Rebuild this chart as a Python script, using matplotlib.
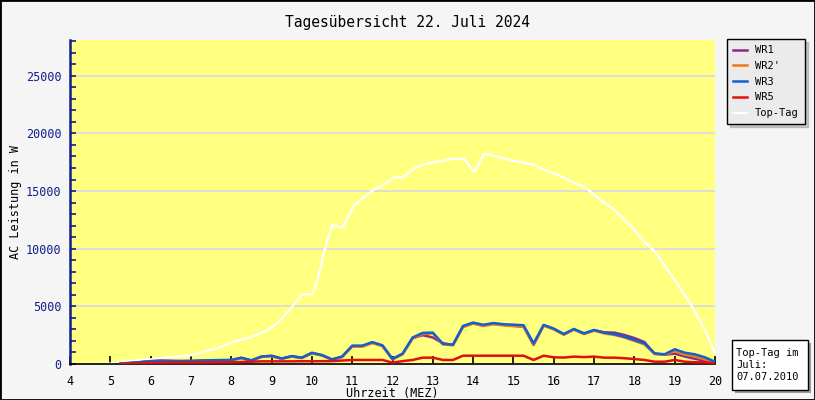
import matplotlib
matplotlib.use("Agg")
import matplotlib.pyplot as plt
from matplotlib.patches import Rectangle

plt.rcParams['font.family'] = ['DejaVu Sans Mono']

# Zeitachse (Viertelstunden) fuer die Wechselrichter
zeit = [5.25, 5.5, 5.75, 6.0, 6.25, 6.5, 6.75, 7.0, 7.25, 7.5, 7.75, 8.0,
        8.25, 8.5, 8.75, 9.0, 9.25, 9.5, 9.75, 10.0, 10.25, 10.5, 10.75, 11.0,
        11.25, 11.5, 11.75, 12.0, 12.25, 12.5, 12.75, 13.0, 13.25, 13.5, 13.75, 14.0,
        14.25, 14.5, 14.75, 15.0, 15.25, 15.5, 15.75, 16.0, 16.25, 16.5, 16.75, 17.0,
        17.25, 17.5, 17.75, 18.0, 18.25, 18.5, 18.75, 19.0, 19.25, 19.5, 19.75, 20.0]

wr3 = [30, 100, 170, 250, 290, 270, 260, 270, 300, 330, 340, 350,
       550, 320, 650, 720, 480, 690, 550, 980, 780, 400, 650, 1590,
       1590, 1900, 1620, 440, 900, 2300, 2700, 2720, 1750, 1680, 3300, 3590,
       3400, 3550, 3450, 3410, 3360, 1790, 3390, 3070, 2600, 3040, 2660, 2950,
       2720, 2580, 2370, 2080, 1790, 930, 840, 1280, 980, 840, 580, 200]

wr1 = [20, 80, 150, 230, 270, 250, 240, 250, 280, 310, 320, 330,
       520, 300, 620, 690, 460, 660, 530, 940, 750, 380, 620, 1550,
       1550, 1850, 1580, 420, 870, 2250, 2500, 2300, 1800, 1650, 3250, 3550,
       3350, 3500, 3400, 3300, 3250, 1650, 3350, 3030, 2560, 3000, 2620, 2920,
       2750, 2720, 2520, 2250, 1900, 880, 800, 900, 650, 450, 300, 100]

wr2 = [25, 90, 160, 240, 280, 260, 250, 260, 290, 320, 330, 340,
       500, 290, 600, 670, 440, 640, 510, 920, 730, 370, 600, 1500,
       1500, 1820, 1550, 400, 850, 2200, 2600, 2650, 1700, 1620, 3200, 3500,
       3300, 3450, 3350, 3300, 3250, 1700, 3330, 3000, 2550, 2980, 2600, 2900,
       2650, 2520, 2300, 2000, 1700, 880, 800, 1100, 800, 650, 400, 150]

wr5 = [10, 30, 60, 100, 120, 130, 130, 130, 130, 140, 140, 150,
       180, 200, 230, 230, 230, 230, 240, 240, 240, 250, 300, 350,
       350, 350, 350, 120, 250, 350, 550, 550, 350, 350, 720, 720,
       720, 720, 720, 720, 720, 350, 720, 580, 560, 640, 600, 640,
       550, 550, 500, 430, 350, 200, 200, 350, 200, 150, 150, 50]

# Top-Tag (07.07.2010)
top_zeit = [4.9, 5.12, 5.57, 6.0, 6.4, 7.0, 7.23, 7.65, 8.06, 8.48, 8.9, 9.05,
            9.27, 9.51, 9.75, 10.02, 10.14, 10.34, 10.5, 10.76, 11.05, 11.21, 11.55, 11.8,
            12.04, 12.25, 12.5, 12.79, 13.04, 13.29, 13.5, 13.78, 14.02, 14.28, 14.61, 14.95,
            15.2, 15.52, 15.77, 16.19, 16.52, 16.81, 17.1, 17.48, 17.93, 18.22, 18.47, 18.68,
            19.0, 19.38, 19.75, 20.0]
top_tag = [0, 100, 290, 400, 580, 750, 980, 1360, 1940, 2320, 2950, 3300,
           3960, 4980, 6000, 6080, 7300, 10180, 12060, 11830, 13800, 14240, 15160, 15600,
           16170, 16170, 16900, 17330, 17500, 17650, 17790, 17790, 16640, 18230, 17990, 17650,
           17500, 17270, 16840, 16260, 15680, 15250, 14380, 13430, 11920, 10680, 9900, 8880,
           7290, 5270, 2950, 900]

fig = plt.figure(figsize=(8.15, 4.0), dpi=100, facecolor='#f5f5f5')
ax = fig.add_axes([70 / 815, 36 / 400, 645 / 815, 324 / 400])
ax.set_facecolor('#ffff80')

ax.plot(top_zeit, top_tag, color='white', lw=1.6, label='Top-Tag', zorder=2)
ax.plot(zeit, wr1, color='#8b2a82', lw=1.8, label='WR1', zorder=3)
ax.plot(zeit, wr2, color='#f07818', lw=1.8, label="WR2'", zorder=3)
ax.plot(zeit, wr3, color='#1060d0', lw=1.8, label='WR3', zorder=4)
ax.plot(zeit, wr5, color='#e01010', lw=1.8, label='WR5', zorder=5)

ax.set_xlim(4, 20)
ax.set_ylim(0, 28100)
ax.set_xticks(range(4, 21))
ax.set_yticks(range(0, 28000, 5000))
ax.set_yticks(range(0, 28001, 1000), minor=True)
ax.grid(axis='y', color='#d8d8e8', lw=1.2, zorder=1)
ax.set_axisbelow(True)

for s in ['top', 'right']:
    ax.spines[s].set_visible(False)
ax.spines['left'].set_color('#10208a')
ax.spines['left'].set_linewidth(1.8)
ax.spines['bottom'].set_color('black')
ax.spines['bottom'].set_linewidth(1.2)

ax.tick_params(axis='y', which='both', direction='in', length=4, width=1.2,
               colors='#10208a', labelsize=8.5, pad=6)
ax.tick_params(axis='x', direction='in', length=6, width=1.2, colors='black',
               labelsize=8.5, pad=8)

ax.set_xlabel('Uhrzeit (MEZ)', fontsize=8.5, labelpad=-1)
fig.text(16 / 815, 1 - 202 / 400, 'AC Leistung in W', rotation=90, ha='center',
         va='center', fontsize=8.5)
fig.text(0.5, 1 - 22 / 400, 'Tagesübersicht 22. Juli 2024', ha='center', va='center',
         fontsize=10.5)

handles, labels = ax.get_legend_handles_labels()
order = [1, 2, 3, 4, 0]
leg = fig.legend([handles[i] for i in order], [labels[i] for i in order],
                 loc='upper left', bbox_to_anchor=(727 / 815, 1 - 39 / 400),
                 fontsize=7.5, frameon=True, fancybox=False, shadow={'color': '#999999'},
                 edgecolor='black', facecolor='#ebebeb', framealpha=1,
                 handlelength=1.3, handletextpad=0.8, labelspacing=0.55,
                 borderpad=0.6, borderaxespad=0)
leg.get_frame().set_linewidth(1.0)

# Info-Box unten rechts
fig.patches.append(Rectangle((735 / 815, 7 / 400), 76 / 815, 50 / 400,
                             transform=fig.transFigure, facecolor='#999999',
                             edgecolor='none'))
fig.patches.append(Rectangle((732 / 815, 10 / 400), 76 / 815, 50 / 400,
                             transform=fig.transFigure, facecolor='white',
                             edgecolor='black', lw=1.0))
fig.text(736 / 815, 35 / 400, 'Top-Tag im\nJuli:\n07.07.2010', ha='left', va='center',
         fontsize=7.5, linespacing=1.2)

fig.patches.append(Rectangle((0, 0), 1, 1, transform=fig.transFigure, fill=False,
                             edgecolor='black', lw=2))

fig.savefig('out.png', dpi=100, facecolor=fig.get_facecolor())
